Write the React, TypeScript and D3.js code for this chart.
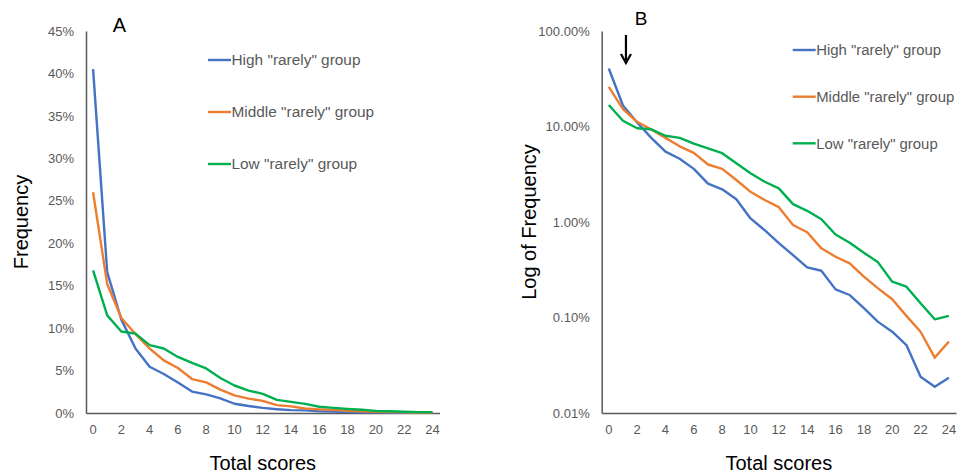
import React, { useEffect, useRef } from 'react';
import * as d3 from 'd3';

// Frequency (%) per total score
const scores = [0, 1, 2, 3, 4, 5, 6, 7, 8, 9, 10, 11, 12, 13, 14, 15, 16, 17, 18, 19, 20, 21, 22, 23, 24];
const highRarely = [40.5, 16.6, 11.0, 7.6, 5.45, 4.6, 3.6, 2.52, 2.2, 1.73, 1.09, 0.82, 0.6, 0.45, 0.335, 0.309, 0.197, 0.172, 0.125, 0.09, 0.071, 0.0515, 0.024, 0.0188, 0.0234];
const middleRarely = [26.0, 15.2, 11.2, 9.3, 7.6, 6.2, 5.3, 4.0, 3.6, 2.75, 2.07, 1.7, 1.43, 0.93, 0.78, 0.53, 0.433, 0.369, 0.268, 0.202, 0.155, 0.104, 0.071, 0.038, 0.056];
const lowRarely = [16.8, 11.5, 9.6, 9.35, 8.0, 7.6, 6.6, 5.9, 5.25, 4.12, 3.24, 2.64, 2.25, 1.54, 1.31, 1.07, 0.74, 0.607, 0.477, 0.378, 0.237, 0.21, 0.141, 0.0957, 0.104];

const seriesNames = ['High "rarely" group', 'Middle "rarely" group', 'Low "rarely" group'];
const seriesColors = ['#4472C4', '#ED7D31', '#00B050'];
const seriesValues = [highRarely, middleRarely, lowRarely];

const xTickLabels = [0, 2, 4, 6, 8, 10, 12, 14, 16, 18, 20, 22, 24];
const linearTicks = [0, 5, 10, 15, 20, 25, 30, 35, 40, 45];
const logTicks = [0.01, 0.1, 1, 10, 100];

const FONT = '"Liberation Sans", Arial, sans-serif';
const GREY = '#595959';

interface PanelOpts {
    left: number;
    right: number;
    top: number;
    bottom: number;
    log: boolean;
    letter: string;
    letterX: number;
    letterY: number;
    letterSize: number;
    yTitle: string;
    yTitleX: number;
    legendX: number;
    legendY: number[];
    legendSize: number;
}

function drawPanel(svg: d3.Selection<SVGSVGElement, unknown, null, undefined>, o: PanelOpts) {
    const g = svg.append('g');

    const x = d3.scaleBand<string>()
        .domain(scores.map(String))
        .range([o.left, o.right]);
    const cx = (s: number) => (x(String(s)) || 0) + x.bandwidth() / 2;

    const y = o.log
        ? d3.scaleLog().domain([0.01, 100]).range([o.bottom, o.top])
        : d3.scaleLinear().domain([0, 45]).range([o.bottom, o.top]);

    // y axis
    const yAxis = d3.axisLeft(y as any)
        .tickValues(o.log ? logTicks : linearTicks)
        .tickSize(0)
        .tickPadding(12)
        .tickFormat((d: any) => o.log ? d3.format('.2f')(d) + '%' : d + '%');

    const ya = g.append('g')
        .attr('transform', `translate(${o.left},0)`)
        .call(yAxis);
    ya.select('.domain').attr('stroke', GREY).attr('stroke-width', 1.5);
    ya.selectAll('text')
        .attr('fill', GREY)
        .style('font-family', FONT)
        .style('font-size', '13px');

    // x axis
    const xAxis = d3.axisBottom(x)
        .tickValues(xTickLabels.map(String))
        .tickSize(0)
        .tickSizeOuter(0)
        .tickPadding(12);
    const xa = g.append('g')
        .attr('transform', `translate(0,${o.bottom})`)
        .call(xAxis);
    xa.select('.domain').attr('stroke', GREY).attr('stroke-width', 1.5);
    xa.selectAll('text')
        .attr('fill', GREY)
        .style('font-family', FONT)
        .style('font-size', '13px');

    // lines
    const line = d3.line<number>()
        .x((d, i) => cx(scores[i]))
        .y(d => y(d));

    seriesValues.forEach((vals, k) => {
        g.append('path')
            .datum(vals)
            .attr('d', line)
            .attr('fill', 'none')
            .attr('stroke', seriesColors[k])
            .attr('stroke-width', 2.4)
            .attr('stroke-linejoin', 'round');
    });

    // legend
    seriesNames.forEach((name, k) => {
        const ly = o.legendY[k];
        g.append('line')
            .attr('x1', o.legendX).attr('x2', o.legendX + 23)
            .attr('y1', ly).attr('y2', ly)
            .attr('stroke', seriesColors[k])
            .attr('stroke-width', 2.4);
        g.append('text')
            .attr('x', o.legendX + 23.5)
            .attr('y', ly)
            .attr('dy', '0.35em')
            .attr('fill', GREY)
            .style('font-family', FONT)
            .style('font-size', `${o.legendSize}px`)
            .text(name);
    });

    // panel letter
    g.append('text')
        .attr('x', o.letterX)
        .attr('y', o.letterY)
        .attr('dy', '0.36em')
        .attr('text-anchor', 'middle')
        .attr('fill', '#000')
        .style('font-family', FONT)
        .style('font-size', `${o.letterSize}px`)
        .text(o.letter);

    // axis titles
    g.append('text')
        .attr('x', (o.left + o.right) / 2)
        .attr('y', 470)
        .attr('text-anchor', 'middle')
        .attr('fill', '#000')
        .style('font-family', FONT)
        .style('font-size', '20px')
        .text('Total scores');

    g.append('text')
        .attr('transform', `translate(${o.yTitleX},${(o.top + o.bottom) / 2}) rotate(-90)`)
        .attr('text-anchor', 'middle')
        .attr('dy', '0.35em')
        .attr('fill', '#000')
        .style('font-family', FONT)
        .style('font-size', '20px')
        .text(o.yTitle);

    return { x, cx, y };
}

export default function App() {
    const svgRef = useRef<SVGSVGElement>(null);

    useEffect(() => {
        if (!svgRef.current) return;
        const svg = d3.select(svgRef.current);
        svg.selectAll('*').remove();

        drawPanel(svg, {
            left: 86, right: 439.5, top: 31, bottom: 413,
            log: false,
            letter: 'A', letterX: 119.5, letterY: 25, letterSize: 20,
            yTitle: 'Frequency', yTitleX: 21,
            legendX: 208, legendY: [60, 112, 164], legendSize: 15.4,
        });

        const b = drawPanel(svg, {
            left: 601.7, right: 956, top: 31, bottom: 413,
            log: true,
            letter: 'B', letterX: 641, letterY: 18, letterSize: 19,
            yTitle: 'Log of Frequency', yTitleX: 529,
            legendX: 792.7, legendY: [50, 96.7, 143.3], legendSize: 14.9,
        });

        // arrow marking score 1
        const ax = b.cx(1) + 3;
        svg.append('line')
            .attr('x1', ax).attr('x2', ax)
            .attr('y1', 35).attr('y2', 60)
            .attr('stroke', '#000')
            .attr('stroke-width', 2.2);
        svg.append('path')
            .attr('d', `M${ax - 5},${54} L${ax},${63} L${ax + 5},${54}`)
            .attr('fill', 'none')
            .attr('stroke', '#000')
            .attr('stroke-width', 2.2);
    }, []);

    return (
        <svg
            ref={svgRef}
            width={957}
            height={475}
            style={{ position: 'absolute', left: 0, top: 0, background: '#fff' }}
        />
    );
}
